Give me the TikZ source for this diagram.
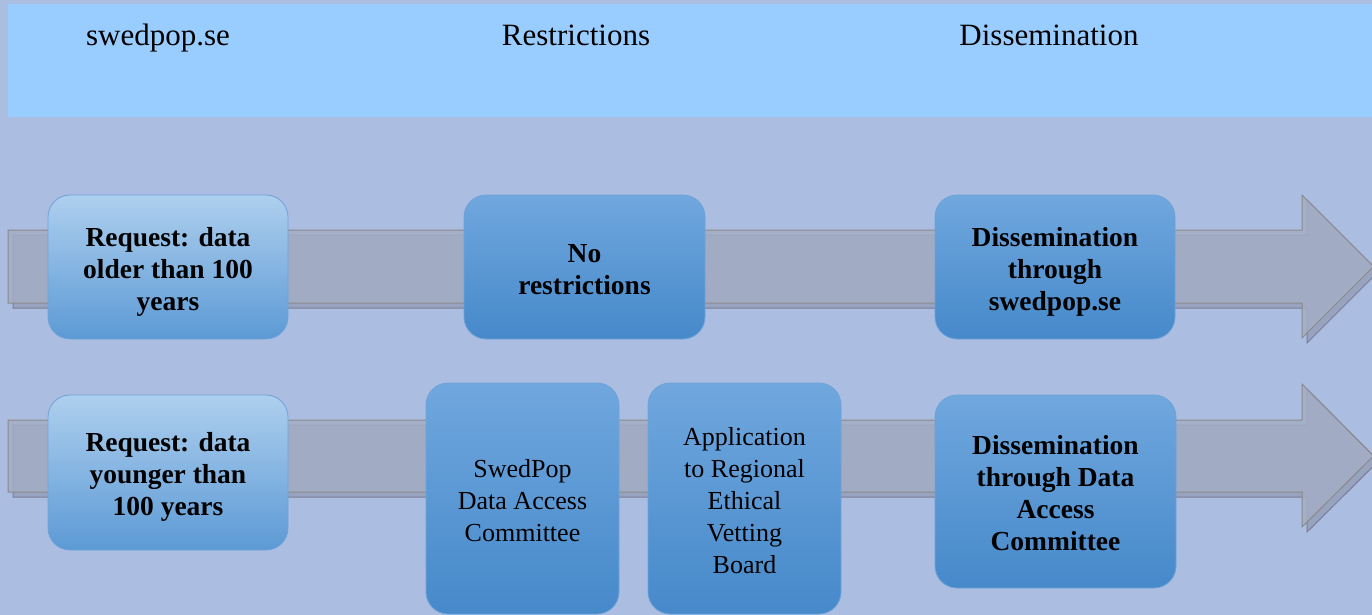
\documentclass[tikz,border=0pt]{standalone}
\usepackage{fontspec}
\setmainfont{Liberation Serif}
\definecolor{bgc}{HTML}{ACBDE2}
\definecolor{hdr}{HTML}{99CCFF}
\definecolor{arrfill}{HTML}{A3ADC4}
\definecolor{arrshadow}{HTML}{97A3BF}
\definecolor{arrline}{HTML}{8A8A8A}
\definecolor{boxline}{HTML}{6FA3D8}
\definecolor{ltop}{HTML}{AECFEE}
\definecolor{lbot}{HTML}{5C9AD5}
\definecolor{dtop}{HTML}{70A7DE}
\definecolor{dbot}{HTML}{4689CA}
\newcommand\mystrut[1]{\rule{0pt}{#1}}
\begin{document}
\begin{tikzpicture}[x=1pt,y=-1pt,
  hdrtext/.style={anchor=base, font=\fontsize{31}{36}\selectfont},
  flowbox/.style={draw=boxline, line width=0.8pt, rounded corners=22pt, align=center, inner sep=0pt},
  lightbox/.style={flowbox, top color=ltop, bottom color=lbot},
  darkbox/.style={flowbox, top color=dtop, bottom color=dbot},
  boldtxt/.style={font=\fontsize{27.5}{32}\selectfont\bfseries},
  plaintxt/.style={font=\fontsize{26}{32}\selectfont},
  arrshad/.style={fill=arrshadow, draw=arrline!90!blue, line width=1pt},
  arrmain/.style={fill=arrfill, fill opacity=0.85, draw=arrline, line width=1pt}
]
\useasboundingbox (0,0) rectangle (1372,615);
\fill[bgc] (0,0) rectangle (1372,615);
% header band
\fill[hdr] (8,4) rectangle (1372,117);
\node[hdrtext] (h1) at (158,46) {swedpop.se};
\node[hdrtext] (h2) at (576,46) {Restrictions};
\node[hdrtext] (h3) at (1049,46) {Dissemination};
% row 1 arrow (shadow + main)
\draw[arrshad] (13,235) -- (1307,235) -- (1307,200) -- (1378.5,271.5) -- (1307,343) -- (1307,308) -- (13,308) -- cycle;
\draw[arrmain] (8,230) -- (1302,230) -- (1302,195) -- (1373.5,266.5) -- (1302,338) -- (1302,303) -- (8,303) -- cycle;
% row 2 arrow
\draw[arrshad] (13,425) -- (1307,425) -- (1307,389) -- (1378.5,461) -- (1307,532) -- (1307,497) -- (13,497) -- cycle;
\draw[arrmain] (8,420) -- (1302,420) -- (1302,384) -- (1373.5,456) -- (1302,527) -- (1302,492) -- (8,492) -- cycle;
% row 1 boxes
\node[lightbox, minimum width=240pt, minimum height=144pt, boldtxt] (a1) at (168,267)
  {\mystrut{29pt}Request: data\\older than 100\\years};
\node[darkbox, minimum width=241pt, minimum height=144pt, boldtxt] (b1) at (584.5,267)
  {\mystrut{23pt}No\\restrictions};
\node[darkbox, minimum width=240pt, minimum height=144pt, boldtxt] (c1) at (1055,267)
  {\mystrut{29pt}Dissemination\\through\\swedpop.se};
% row 2 boxes
\node[lightbox, minimum width=240pt, minimum height=155pt, boldtxt] (a2) at (168,472.5)
  {\mystrut{27pt}Request: data\\younger than\\100 years};
\node[darkbox, minimum width=193pt, minimum height=231pt, plaintxt] (b2) at (522.5,498.5)
  {\mystrut{21.5pt}SwedPop\\Data Access\\Committee};
\node[darkbox, minimum width=193pt, minimum height=231pt, plaintxt] (b3) at (744.5,498.5)
  {\mystrut{21.5pt}Application\\to Regional\\Ethical\\Vetting\\Board};
\node[darkbox, minimum width=241pt, minimum height=193pt, boldtxt] (c2) at (1055.5,491.5)
  {\mystrut{23pt}Dissemination\\through Data\\Access\\Committee};
\end{tikzpicture}
\end{document}
